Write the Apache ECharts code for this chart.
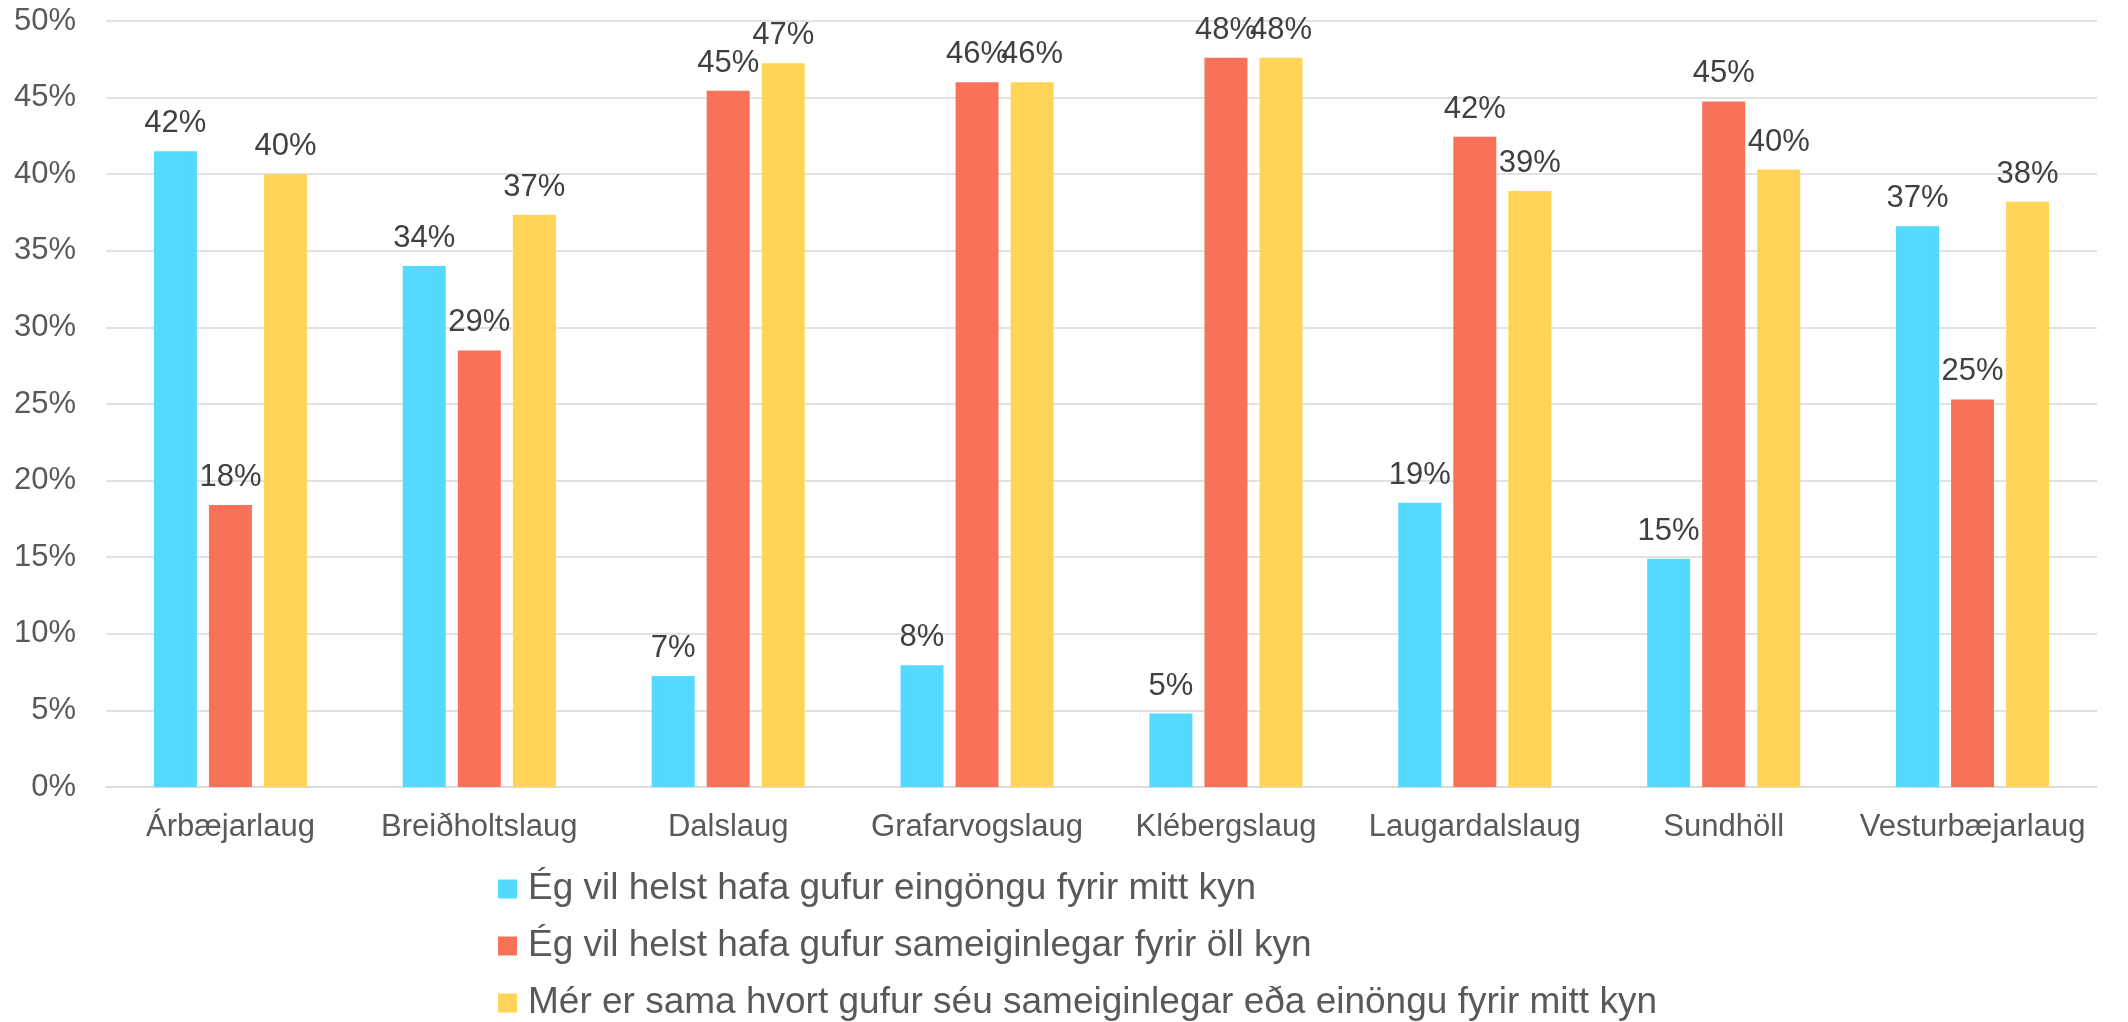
<!DOCTYPE html>
<html>
<head>
<meta charset="utf-8">
<script src="https://cdn.jsdelivr.net/npm/echarts@6/dist/echarts.min.js"></script>
<style>
  html, body { margin: 0; padding: 0; background: #fff; }
  #chart { width: 2128px; height: 1022px; }
</style>
</head>
<body>
<div id="chart"></div>
<script>
// laugar (pools)
const categories = ["Árbæjarlaug", "Breiðholtslaug", "Dalslaug", "Grafarvogslaug", "Klébergslaug", "Laugardalslaug", "Sundhöll", "Vesturbæjarlaug"];

const seriesNames = [
  "Ég vil helst hafa gufur eingöngu fyrir mitt kyn",
  "Ég vil helst hafa gufur sameiginlegar fyrir öll kyn",
  "Mér er sama hvort gufur séu sameiginlegar eða einöngu fyrir mitt kyn"
];

// percent values
const eigin = [41.5, 34.0, 7.25, 7.95, 4.8, 18.55, 14.9, 36.6];
const sameiginlegar = [18.4, 28.5, 45.45, 46.0, 47.6, 42.45, 44.75, 25.3];
const sama = [40.0, 37.35, 47.25, 46.0, 47.6, 38.9, 40.3, 38.2];

const colors = ["#54DAFF", "#F77259", "#FFD457"];
const font = "Liberation Sans, Arial, sans-serif";

const chart = echarts.init(document.getElementById("chart"));

function barSeries(name, data) {
  return {
    name: name,
    type: "bar",
    data: data,
    barWidth: 43,
    barGap: "28%",
    label: {
      show: true,
      position: "top",
      distance: 12,
      color: "#404040",
      fontFamily: font,
      fontSize: 31,
      formatter: p => Math.round(p.value) + "%"
    }
  };
}

chart.setOption({
  animation: false,
  color: colors,
  grid: { left: 106, right: 31, top: 21, bottom: 235 },
  legend: {
    orient: "vertical",
    left: 493,
    top: 864,
    height: 158,
    itemWidth: 19,
    itemHeight: 19,
    itemGap: 17,
    icon: "rect",
    textStyle: {
      color: "#595959",
      fontFamily: font,
      fontSize: 37,
      lineHeight: 40,
      padding: [0, 0, 0, 6]
    },
    data: seriesNames
  },
  xAxis: {
    type: "category",
    data: categories,
    axisLine: { lineStyle: { color: "#d9d9d9", width: 1.5 } },
    axisTick: { show: false },
    axisLabel: {
      color: "#595959",
      fontFamily: font,
      fontSize: 31,
      margin: 25,
      interval: 0
    }
  },
  yAxis: {
    type: "value",
    min: 0,
    max: 50,
    interval: 5,
    axisLine: { show: false },
    axisTick: { show: false },
    splitLine: { lineStyle: { color: "#d9d9d9", width: 1.5 } },
    axisLabel: {
      color: "#595959",
      fontFamily: font,
      fontSize: 31,
      margin: 30,
      formatter: "{value}%"
    }
  },
  series: [
    barSeries(seriesNames[0], eigin),
    barSeries(seriesNames[1], sameiginlegar),
    barSeries(seriesNames[2], sama)
  ]
});
</script>
</body>
</html>
